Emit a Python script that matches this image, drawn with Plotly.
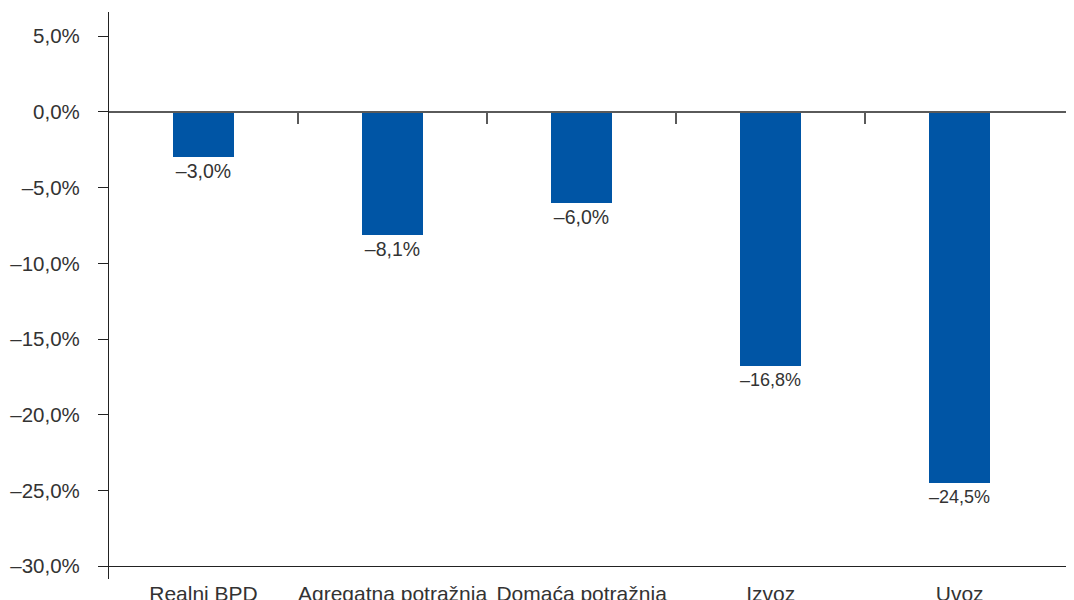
import plotly.graph_objects as go

categories = ["Realni BPD", "Agregatna potražnja", "Domaća potražnja", "Izvoz", "Uvoz"]
values = [-3.0, -8.1, -6.0, -16.8, -24.5]
y_tickvals = [5, 0, -5, -10, -15, -20, -25, -30]
y_ticktext = ["5,0%", "0,0%", "–5,0%", "–10,0%", "–15,0%", "–20,0%", "–25,0%", "–30,0%"]
bar_labels = ["–" + f"{abs(v):.1f}".replace(".", ",") + "%" for v in values]

YMIN, YMAX = -30.85, 6.6
XMIN, XMAX = -0.5, 4.61
FONT = "Liberation Sans, Arial, sans-serif"

def frac(v):
    return (v - YMIN) / (YMAX - YMIN)

fig = go.Figure()
fig.add_trace(go.Bar(
    x=list(range(len(categories))), y=values,
    marker=dict(color="#0055A5", line=dict(width=0)),
    width=0.323,
    text=bar_labels, textposition="outside",
    textfont=dict(size=19.5, color="#333333", family=FONT),
    cliponaxis=False, showlegend=False, hoverinfo="skip",
))
# invisible helper traces so the overlay axes get drawn
fig.add_trace(go.Scatter(x=[0], y=[None], xaxis="x2", mode="markers", showlegend=False, hoverinfo="skip"))
fig.add_trace(go.Scatter(x=[0], y=[None], xaxis="x3", mode="markers", showlegend=False, hoverinfo="skip"))

fig.update_layout(
    width=1074, height=600,
    margin=dict(l=101, r=7, t=4, b=29, autoexpand=False),
    paper_bgcolor="white", plot_bgcolor="white",
    font=dict(family=FONT, size=20, color="#333333"),
    bargap=0,
    xaxis=dict(
        type="linear", range=[XMIN, XMAX], automargin=False,
        tickmode="array", tickvals=list(range(len(categories))), ticktext=categories,
        showline=False, showgrid=False, zeroline=False, ticks="",
        tickfont=dict(size=21, color="#333333"),
        ticklabelstandoff=0,
    ),
    xaxis2=dict(
        type="linear", range=[XMIN, XMAX], overlaying="x", anchor="free",
        position=frac(0), side="bottom", automargin=False,
        showline=True, linecolor="#5a5a5a", linewidth=1.5,
        ticks="outside", ticklen=11, tickwidth=1.5, tickcolor="#5a5a5a",
        tickmode="array", tickvals=[0.5, 1.5, 2.5, 3.5],
        showticklabels=False, showgrid=False, zeroline=False,
    ),
    xaxis3=dict(
        type="linear", range=[XMIN, XMAX], overlaying="x", anchor="free",
        position=frac(-30), side="bottom", automargin=False,
        showline=True, linecolor="#222222", linewidth=1.2,
        ticks="", showticklabels=False, showgrid=False, zeroline=False,
    ),
    yaxis=dict(
        range=[YMIN, YMAX], automargin=False,
        tickmode="array", tickvals=y_tickvals, ticktext=y_ticktext,
        showline=True, linecolor="#222222", linewidth=1.2,
        ticks="outside", ticklen=10, tickwidth=1.2, tickcolor="#222222",
        showgrid=False, zeroline=False,
        tickfont=dict(size=20.5, color="#333333"),
        ticklabelstandoff=14,
    ),
)

fig.write_html("out.html")
